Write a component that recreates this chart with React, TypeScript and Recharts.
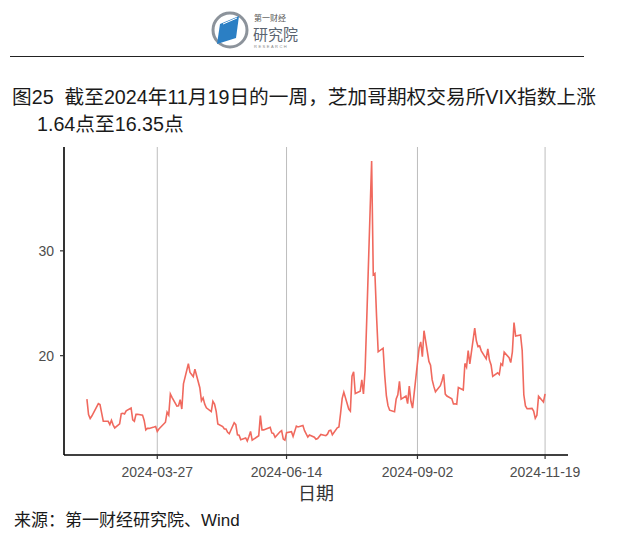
import React from 'react';
import { LineChart, Line, XAxis, YAxis, ReferenceLine } from 'recharts';

const YEAR = 2024;

const tradeDates = [
  '02-13','02-14','02-15','02-16','02-20','02-21','02-22','02-23','02-26','02-27','02-28','02-29',
  '03-01','03-04','03-05','03-06','03-07','03-08','03-11','03-12','03-13','03-14','03-15','03-18','03-19','03-20','03-21','03-22','03-25','03-26','03-27','03-28',
  '04-01','04-02','04-03','04-04','04-05','04-08','04-09','04-10','04-11','04-12','04-15','04-16','04-17','04-18','04-19','04-22','04-23','04-24','04-25','04-26','04-29','04-30',
  '05-01','05-02','05-03','05-06','05-07','05-08','05-09','05-10','05-13','05-14','05-15','05-16','05-17','05-20','05-21','05-22','05-23','05-24','05-28','05-29','05-30','05-31',
  '06-03','06-04','06-05','06-06','06-07','06-10','06-11','06-12','06-13','06-14','06-17','06-18','06-20','06-21','06-24','06-25','06-26','06-27','06-28',
  '07-01','07-02','07-03','07-05','07-08','07-09','07-10','07-11','07-12','07-15','07-16','07-17','07-18','07-19','07-22','07-23','07-24','07-25','07-26','07-29','07-30','07-31',
  '08-01','08-02','08-05','08-06','08-07','08-08','08-09','08-12','08-13','08-14','08-15','08-16','08-19','08-20','08-21','08-22','08-23','08-26','08-27','08-28','08-29','08-30',
  '09-03','09-04','09-05','09-06','09-09','09-10','09-11','09-12','09-13','09-16','09-17','09-18','09-19','09-20','09-23','09-24','09-25','09-26','09-27','09-30',
  '10-01','10-02','10-03','10-04','10-07','10-08','10-09','10-10','10-11','10-14','10-15','10-16','10-17','10-18','10-21','10-22','10-23','10-24','10-25','10-28','10-29','10-30','10-31',
  '11-01','11-04','11-05','11-06','11-07','11-08','11-11','11-12','11-13','11-14','11-15','11-18','11-19',
];

const vixClose = [
  15.85,14.38,14.01,14.24,15.42,15.34,14.54,13.75,13.74,13.43,13.84,13.40,
  13.11,13.49,14.46,14.50,14.44,14.74,15.01,13.88,13.75,14.40,14.41,14.33,13.82,12.92,13.06,13.06,13.19,13.24,12.78,13.01,
  13.65,14.61,14.33,16.35,16.03,15.19,15.22,15.80,14.91,17.31,19.23,18.40,18.21,18.00,18.71,16.94,15.69,15.97,15.37,15.03,14.67,15.65,
  15.39,14.68,13.49,13.23,13.00,13.00,12.69,12.55,13.60,13.42,12.45,12.42,11.99,12.15,11.86,12.29,12.77,11.93,12.36,14.28,12.91,12.92,
  13.11,13.16,12.63,12.58,12.22,12.74,12.85,12.04,11.94,12.66,12.75,12.30,13.28,13.20,13.33,12.84,12.55,12.24,12.44,
  12.22,12.03,12.09,12.48,12.37,12.51,12.85,12.89,12.46,13.12,13.19,14.48,15.93,16.52,14.91,14.72,18.04,18.46,16.39,16.60,17.69,16.36,
  18.59,23.39,38.57,27.71,27.85,23.79,20.37,20.71,18.12,16.19,15.23,14.80,14.65,15.88,16.27,17.55,15.86,16.15,15.43,17.11,15.65,15.00,
  20.72,21.32,19.90,22.38,19.45,19.08,17.69,17.07,16.56,17.14,17.61,18.23,16.33,16.15,15.89,15.39,15.41,15.37,16.96,16.73,
  19.26,18.90,20.49,19.21,22.64,21.42,20.86,20.93,20.46,19.70,20.64,19.58,19.11,18.03,18.37,18.20,19.24,19.08,20.33,19.80,19.34,20.35,23.16,
  21.88,21.98,20.49,16.27,15.20,14.94,14.97,14.71,14.02,14.31,16.14,15.58,16.35,
];

const xTickDates = ['2024-03-27', '2024-06-14', '2024-09-02', '2024-11-19'];
const yTicks = [20, 30];

const DAY = 86400000;
const toDay = (s: string) =>
  Date.UTC(+s.slice(0, 4), +s.slice(5, 7) - 1, +s.slice(8, 10)) / DAY;
const fmtDay = (d: number) => new Date(Math.round(d) * DAY).toISOString().slice(0, 10);

const data = tradeDates.map((md, i) => ({ t: toDay(`${YEAR}-${md}`), v: vixClose[i] }));
const tMin = data[0].t;
const tMax = data[data.length - 1].t;
const tPad = (tMax - tMin) * 0.05;
const vMin = Math.min(...vixClose);
const vMax = Math.max(...vixClose);
const vPad = (vMax - vMin) * 0.05;
const xTicks = xTickDates.map(toDay);

const FONT = '"Liberation Sans", Arial, "Noto Sans CJK SC", sans-serif';

function Logo() {
  return (
    <svg width={640} height={60} style={{ position: 'absolute', left: 0, top: 0 }}>
      <circle cx={230} cy={30} r={17} fill="none" stroke="#8c939b" strokeWidth={3} />
      <path d="M 220 24 L 239 16 L 236 38 L 217 44 Z" fill="#2b7fc4" />
      <path d="M 223 24 L 237 18" stroke="#ffffff" strokeWidth={1} />
      <text x={254} y={21} fontSize={8} fill="#555" fontFamily={FONT}>第一财经</text>
      <text x={253} y={40} fontSize={15} fill="#5a6470" fontFamily={FONT}>研究院</text>
      <text x={254} y={48} fontSize={4} fill="#888" fontFamily={FONT} letterSpacing={1.5}>RESEARCH</text>
      <line x1={10} y1={56.5} x2={584} y2={56.5} stroke="#222" strokeWidth={1} />
    </svg>
  );
}

export default function App() {
  return (
    <div
      style={{
        position: 'absolute',
        left: 0,
        top: 0,
        width: 640,
        height: 540,
        background: '#fff',
        fontFamily: FONT,
        overflow: 'hidden',
      }}
    >
      <Logo />
      <div style={{ position: 'absolute', left: 12, top: 84, fontSize: 19.7, color: '#1a1a1a', whiteSpace: 'nowrap', lineHeight: '26px' }}>
        图25&nbsp;&nbsp;截至2024年11月19日的一周，芝加哥期权交易所VIX指数上涨
      </div>
      <div style={{ position: 'absolute', left: 37, top: 111, fontSize: 19.7, color: '#1a1a1a', whiteSpace: 'nowrap', lineHeight: '26px' }}>
        1.64点至16.35点
      </div>
      <div style={{ position: 'absolute', left: 0, top: 0 }}>
        <LineChart
          width={640}
          height={540}
          data={data}
          margin={{ top: 147, right: 72, bottom: 55, left: 14 }}
        >
          <XAxis
            dataKey="t"
            type="number"
            domain={[tMin - tPad, tMax + tPad]}
            ticks={xTicks}
            tickFormatter={fmtDay}
            allowDataOverflow
            height={30}
            tickSize={4}
            tickMargin={8}
            axisLine={{ stroke: '#000', strokeWidth: 1.6 }}
            tickLine={{ stroke: '#333', strokeWidth: 1.2 }}
            tick={{ fill: '#4d4d4d', fontSize: 14, fontFamily: FONT }}
          />
          <YAxis
            type="number"
            domain={[vMin - vPad, vMax + vPad]}
            ticks={yTicks}
            allowDataOverflow
            width={50}
            tickSize={4}
            tickMargin={6}
            axisLine={{ stroke: '#000', strokeWidth: 1.6 }}
            tickLine={{ stroke: '#333', strokeWidth: 1.2 }}
            tick={{ fill: '#4d4d4d', fontSize: 14, fontFamily: FONT }}
          />
          {xTicks.map((t) => (
            <ReferenceLine key={t} x={t} stroke="#bdbdbd" strokeWidth={1} />
          ))}
          <Line
            type="linear"
            dataKey="v"
            stroke="#F0695E"
            strokeWidth={1.6}
            dot={false}
            isAnimationActive={false}
          />
        </LineChart>
      </div>
      <div style={{ position: 'absolute', left: 0, width: 632, top: 482, textAlign: 'center', fontSize: 18, color: '#333', lineHeight: '24px' }}>
        日期
      </div>
      <div style={{ position: 'absolute', left: 14, top: 509, fontSize: 17, color: '#1a1a1a', whiteSpace: 'nowrap', lineHeight: '24px' }}>
        来源：第一财经研究院、Wind
      </div>
    </div>
  );
}
